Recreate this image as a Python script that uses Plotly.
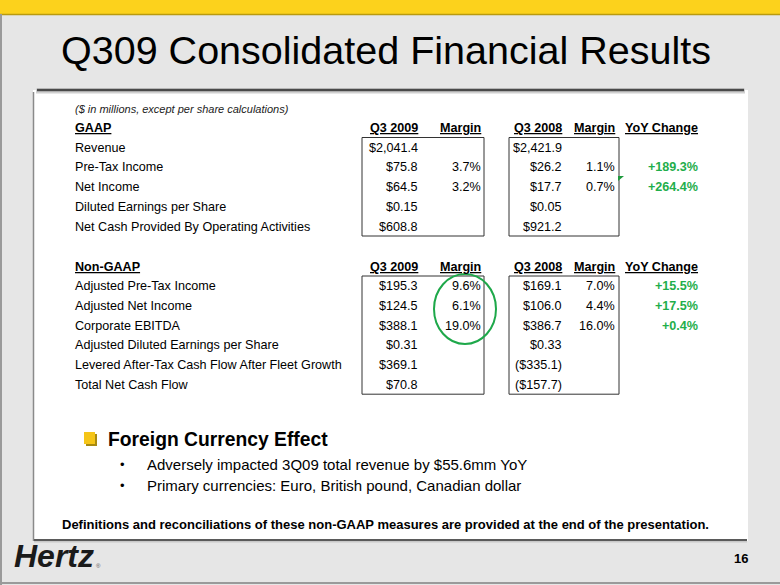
import plotly.graph_objects as go

# --- data -------------------------------------------------------------
title = "Q309 Consolidated Financial Results"
subtitle = "($ in millions, except per share calculations)"
col_headers = ["Q3 2009", "Margin", "Q3 2008", "Margin", "YoY Change"]

gaap_labels = ["Revenue", "Pre-Tax Income", "Net Income",
               "Diluted Earnings per Share",
               "Net Cash Provided By Operating Activities"]
gaap_q309 = ["$2,041.4", "$75.8", "$64.5", "$0.15", "$608.8"]
gaap_m09 = ["", "3.7%", "3.2%", "", ""]
gaap_q308 = ["$2,421.9", "$26.2", "$17.7", "$0.05", "$921.2"]
gaap_m08 = ["", "1.1%", "0.7%", "", ""]
gaap_yoy = ["", "+189.3%", "+264.4%", "", ""]

ng_labels = ["Adjusted Pre-Tax Income", "Adjusted Net Income", "Corporate EBITDA",
             "Adjusted Diluted Earnings per Share",
             "Levered After-Tax Cash Flow After Fleet Growth",
             "Total Net Cash Flow"]
ng_q309 = ["$195.3", "$124.5", "$388.1", "$0.31", "$369.1", "$70.8"]
ng_m09 = ["9.6%", "6.1%", "19.0%", "", "", ""]
ng_q308 = ["$169.1", "$106.0", "$386.7", "$0.33", "($335.1)", "($157.7)"]
ng_m08 = ["7.0%", "4.4%", "16.0%", "", "", ""]
ng_yoy = ["+15.5%", "+17.5%", "+0.4%", "", "", ""]

bullet_head = "Foreign Currency Effect"
bullet_items = ["Adversely impacted 3Q09 total revenue by $55.6mm YoY",
                "Primary currencies: Euro, British pound, Canadian dollar"]
footnote = "Definitions and reconciliations of these non-GAAP measures are provided at the end of the presentation."
page_no = "16"

# --- layout constants ---------------------------------------------------
W, H = 780, 585
FONT = "Liberation Sans, Arial, sans-serif"
GREEN = "#1fae4b"
TS = 12.6                            # table font size
LABEL_X = 73
COL_X = [420, 483, 564, 617, 700]   # right edges of the value columns
ROW_H = 19.7

fig = go.Figure()
shapes = []
ann = []


def text(x, y, s, size=TS, anchor="left", color="black", **kw):
    ann.append(dict(x=x, y=y, text=s, showarrow=False, xanchor=anchor,
                    yanchor="middle", font=dict(family=FONT, size=size, color=color), **kw))


def rect(x0, y0, x1, y1, fill, line=None, lw=0, layer="below"):
    shapes.append(dict(type="rect", x0=x0, y0=y0, x1=x1, y1=y1, fillcolor=fill,
                       line=dict(color=line or fill, width=lw), layer=layer))


def hline(x0, x1, y, color, w):
    shapes.append(dict(type="line", x0=x0, x1=x1, y0=y, y1=y, line=dict(color=color, width=w)))


# slide background
rect(0, 0, W, H, "#e6e6e6")
rect(0, 0, W, 14, "#fcd21c")
hline(0, W, 14.5, "#b99a10", 1.5)
shapes.append(dict(type="line", x0=1, x1=1, y0=14, y1=585, line=dict(color="#9a9a9a", width=2)))
hline(0, W, 583, "#9a9a9a", 2)

# white panel with shadowed edges
rect(33, 90, 748, 541, "#ffffff")
shapes.append(dict(type="line", x0=33.5, x1=33.5, y0=92, y1=541, line=dict(color="#8a8a8a", width=1.5)))
hline(36, 745, 91, "#d0d0d0", 5)
hline(37, 744, 90, "#4a4a4a", 2.5)
hline(34, 747, 541, "#c8c8c8", 3)
hline(34, 747, 540, "#5a5a5a", 2)

text(386, 50, title, size=39.5, anchor="center")


def section(header, y_head, labels, cols):
    text(LABEL_X, y_head, "<b><u>%s</u></b>" % header)
    for x, h in zip(COL_X, col_headers):
        text(x, y_head, "<b><u>%s</u></b>" % h, anchor="right")
    for i, lab in enumerate(labels):
        y = y_head + ROW_H * (i + 1)
        text(LABEL_X, y, lab)
        for j, (x, vals) in enumerate(zip(COL_X, cols)):
            if vals[i]:
                if j == 4:
                    text(x, y, "<b>%s</b>" % vals[i], anchor="right", color=GREEN)
                else:
                    text(x, y, vals[i], anchor="right")
    top = y_head + 9.5
    bot = y_head + ROW_H * len(labels) + 9.5
    for x0, x1 in [(362, 484), (509, 619)]:
        shapes.append(dict(type="rect", x0=x0, x1=x1, y0=top, y1=bot,
                           line=dict(color="#333333", width=1), layer="above"))


text(LABEL_X, 109, "<i>%s</i>" % subtitle, size=11, color="#222222")
section("GAAP", 128, gaap_labels, [gaap_q309, gaap_m09, gaap_q308, gaap_m08, gaap_yoy])
section("Non-GAAP", 266.5, ng_labels, [ng_q309, ng_m09, ng_q308, ng_m08, ng_yoy])

# green highlight ellipse round the non-GAAP Q3 2009 margins
shapes.append(dict(type="circle", x0=434, x1=496, y0=274, y1=344,
                   line=dict(color="#1ea84a", width=2)))
# small comment marker
shapes.append(dict(type="path", path="M 618 176 L 624 176 L 618 181 Z",
                   fillcolor="#1e9a3c", line=dict(width=0)))

# bullet section
rect(86, 434, 97, 446, "#a88a10")
rect(84, 432, 95, 444, "#f5c518")
text(106, 439, "<b>%s</b>" % bullet_head, size=19.3)
for k, item in enumerate(bullet_items):
    y = 464 + 21 * k
    text(118, y, "•", size=13)
    text(145, y, item, size=15)

text(60, 524, "<b>%s</b>" % footnote, size=13)

# footer
text(12, 556, "<b><i>Hertz</i></b>", size=32, color="#1a1a1a")
text(94, 566, "®", size=6, color="#555555")
text(750, 558, "<b>%s</b>" % page_no, size=13, anchor="right")

fig.update_layout(
    width=W, height=H, margin=dict(l=0, r=0, t=0, b=0),
    paper_bgcolor="#e6e6e6", plot_bgcolor="#e6e6e6",
    xaxis=dict(range=[0, W], visible=False, fixedrange=True),
    yaxis=dict(range=[H, 0], visible=False, fixedrange=True),
    shapes=shapes, annotations=ann, showlegend=False,
)
fig.write_html("out.html", config={"displayModeBar": False},
               post_script="document.body.style.margin='0';document.body.style.overflow='hidden';")
